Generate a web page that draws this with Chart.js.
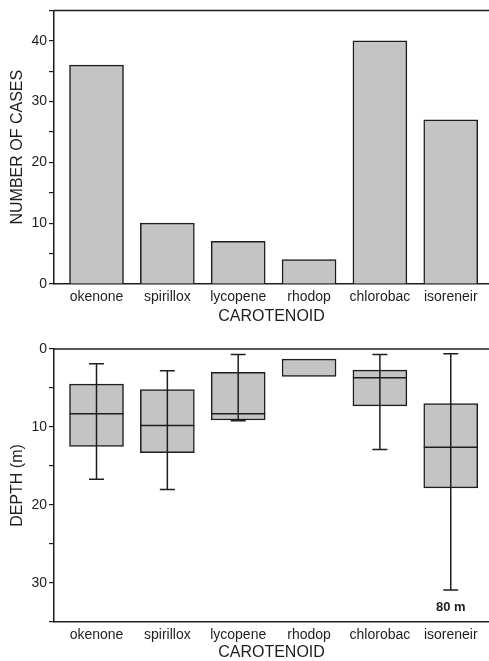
<!DOCTYPE html>
<html>
<head>
<meta charset="utf-8">
<title>Carotenoids: number of cases and depth</title>
<script src="https://cdn.jsdelivr.net/npm/chart.js@4.4.1/dist/chart.umd.min.js"></script>
<style>
    body { margin: 0; background: #fff; }
    canvas { display: block; }
</style>
</head>
<body>
<canvas id="casesChart" width="489" height="325"></canvas>
<canvas id="depthChart" width="489" height="336"></canvas>
<script>
// --- Data ---
const carotenoids = ['okenone', 'spirillox', 'lycopene', 'rhodop', 'chlorobac', 'isoreneir'];
const caseCounts = [36, 10, 7, 4, 40, 27];

// depth (m) box plots; null = not drawn
const depthMin = [1.9, 2.8, 0.7, null, 0.7, 0.6];
const depthQ1 = [4.5, 5.2, 3.0, 1.3, 2.7, 7.0];
const depthMedian = [8.3, 9.8, 8.3, null, 3.7, 12.6];
const depthQ3 = [12.5, 13.3, 9.1, 3.5, 7.3, 17.8];
const depthMax = [16.7, 18.0, 9.2, null, 12.9, 30.9];
const outlierNote = '80 m';
const outlierNoteDepth = 33.1;

const ink = '#1e1e1e';
const fill = '#c4c4c4';
const fontFamily = '"Liberation Sans", Arial, Helvetica, sans-serif';

Chart.defaults.font.family = fontFamily;
Chart.defaults.color = ink;

// --- Helpers ---
// line along the top of the plot area (the frame)
const topFrame = {
    id: 'topFrame',
    afterDraw(chart) {
        const { ctx, chartArea } = chart;
        ctx.save();
        ctx.strokeStyle = ink;
        ctx.lineWidth = 1.5;
        ctx.beginPath();
        ctx.moveTo(chartArea.left, chartArea.top);
        ctx.lineTo(chartArea.right, chartArea.top);
        ctx.stroke();
        ctx.restore();
    }
};

// whiskers, medians and the note under isoreneir
const boxWhiskers = {
    id: 'boxWhiskers',
    afterDatasetsDraw(chart) {
        const { ctx } = chart;
        const xs = chart.scales.x;
        const ys = chart.scales.y;
        const boxes = chart.getDatasetMeta(0).data;
        ctx.save();
        ctx.strokeStyle = ink;
        ctx.lineWidth = 1.5;
        carotenoids.forEach((name, i) => {
            const cx = xs.getPixelForValue(i);
            if (depthMin[i] !== null) {
                const yTop = ys.getPixelForValue(depthMin[i]);
                const yBot = ys.getPixelForValue(depthMax[i]);
                ctx.beginPath();
                ctx.moveTo(cx, yTop);
                ctx.lineTo(cx, yBot);
                ctx.moveTo(cx - 7.5, yTop);
                ctx.lineTo(cx + 7.5, yTop);
                ctx.moveTo(cx - 7.5, yBot);
                ctx.lineTo(cx + 7.5, yBot);
                ctx.stroke();
            }
            if (depthMedian[i] !== null) {
                const half = boxes[i].width / 2;
                const ym = ys.getPixelForValue(depthMedian[i]);
                ctx.beginPath();
                ctx.moveTo(cx - half, ym);
                ctx.lineTo(cx + half, ym);
                ctx.stroke();
            }
        });
        const last = carotenoids.length - 1;
        ctx.fillStyle = ink;
        ctx.font = 'bold 13px ' + fontFamily;
        ctx.textAlign = 'center';
        ctx.textBaseline = 'middle';
        ctx.fillText(outlierNote, xs.getPixelForValue(last), ys.getPixelForValue(outlierNoteDepth));
        ctx.restore();
    }
};

function xAxis(height) {
    return {
        type: 'linear',
        min: -0.6,
        max: 5.54,
        offset: false,
        afterFit: (scale) => { scale.height = height; },
        grid: { display: false, drawTicks: false, offset: false },
        border: { display: true, color: ink, width: 1.5 },
        ticks: {
            stepSize: 1,
            includeBounds: false,
            autoSkip: false,
            maxRotation: 0,
            padding: 5,
            font: { size: 14 },
            callback: (v) => carotenoids[v] ?? ''
        },
        title: {
            display: true,
            text: 'CAROTENOID',
            font: { size: 16, lineHeight: 1 },
            padding: { top: 0, bottom: 0 }
        }
    };
}

function yAxis(label, min, max, reverse) {
    return {
        min: min,
        max: max,
        reverse: reverse,
        afterFit: (scale) => { scale.width = 54; },
        grid: { display: true, drawOnChartArea: false, drawTicks: true, tickLength: 5, color: ink, lineWidth: 1.2 },
        border: { display: true, color: ink, width: 1.5 },
        ticks: {
            stepSize: 5,
            autoSkip: false,
            padding: 2,
            font: { size: 14 },
            callback: (v) => (v % 10 === 0 ? v : '')
        },
        title: {
            display: true,
            text: label,
            font: { size: 16, lineHeight: 1 },
            padding: { top: 10, bottom: 0 }
        }
    };
}

// --- 1. Number of cases (bars) ---
new Chart(document.getElementById('casesChart'), {
    type: 'bar',
    data: {
        datasets: [{
            data: carotenoids.map((c, i) => ({ x: i, y: caseCounts[i] })),
            backgroundColor: fill,
            borderColor: ink,
            borderWidth: 1.5,
            barThickness: 54
        }]
    },
    options: {
        responsive: false,
        animation: false,
        layout: { padding: { top: 7, right: 0, bottom: 0, left: 0 } },
        plugins: { legend: { display: false }, tooltip: { enabled: false } },
        scales: {
            x: xAxis(41),
            y: yAxis('NUMBER OF CASES', 0, 45, false)
        }
    },
    plugins: [topFrame]
});

// --- 2. Depth (box plots) ---
new Chart(document.getElementById('depthChart'), {
    type: 'bar',
    data: {
        datasets: [{
            data: carotenoids.map((c, i) => ({ x: i, y: [depthQ1[i], depthQ3[i]] })),
            backgroundColor: fill,
            borderColor: ink,
            borderWidth: 1.5,
            borderSkipped: false,
            barThickness: 54
        }]
    },
    options: {
        responsive: false,
        animation: false,
        layout: { padding: { top: 24, right: 0, bottom: 0, left: 0 } },
        plugins: { legend: { display: false }, tooltip: { enabled: false } },
        scales: {
            x: xAxis(39),
            y: yAxis('DEPTH (m)', 0, 35, true)
        }
    },
    plugins: [topFrame, boxWhiskers]
});
</script>
</body>
</html>
